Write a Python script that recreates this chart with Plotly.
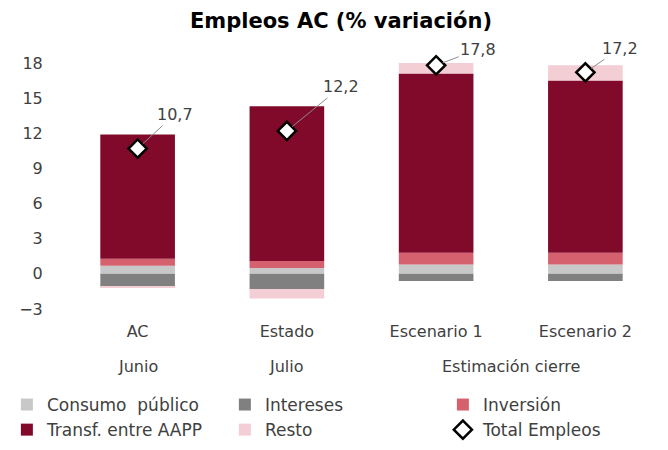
import plotly.graph_objects as go

categories = ["AC", "Estado", "Escenario 1", "Escenario 2"]
group_labels = ["Junio", "Julio", "Estimación cierre"]
group_pos = [0, 1, 2.5]

consumo = [0.7, 0.5, 0.8, 0.8]
intereses = [-1.1, -1.3, -0.6, -0.6]
inversion = [0.6, 0.6, 1.0, 1.0]
transf = [10.6, 13.2, 15.3, 14.7]
resto = [-0.1, -0.8, 1.3, 1.3]
total = [10.7, 12.2, 17.8, 17.2]

y_ticks = [-3, 0, 3, 6, 9, 12, 15, 18]

# label offsets (px) for total labels
label_ax = [37, 54, 42, 35]
label_ay = [-34, -44, -16, -24]

FONT = "DejaVu Sans"
TXT = "#404040"

fig = go.Figure()
series = [
    ("Consumo\u00a0 público", consumo, "#c8c8c8"),
    ("Intereses", intereses, "#808080"),
    ("Inversión", inversion, "#d5616f"),
    ("Transf. entre AAPP", transf, "#810a2b"),
    ("Resto", resto, "#f4ced5"),
]
for name, vals, col in series:
    fig.add_trace(go.Bar(x=categories, y=vals, name=name, width=0.5,
                         marker=dict(color=col, line=dict(width=0))))

fig.add_trace(go.Scatter(x=categories, y=total, name="Total Empleos", mode="markers",
                         marker=dict(symbol="diamond", size=14, color="white",
                                     line=dict(color="black", width=2.5)),
                         cliponaxis=False))

annotations = []
for i, (c, v) in enumerate(zip(categories, total)):
    annotations.append(dict(x=c, y=v, xref="x", yref="y",
                            text=f"{v:.1f}".replace(".", ","),
                            showarrow=True, arrowhead=0, arrowwidth=1, arrowcolor="#8c8c8c",
                            ax=label_ax[i], ay=label_ay[i], standoff=7,
                            font=dict(family=FONT, size=16, color=TXT)))
for g, p in zip(group_labels, group_pos):
    annotations.append(dict(x=p, y=-0.232, xref="x", yref="paper", text=g, showarrow=False,
                            yanchor="middle", font=dict(family=FONT, size=16, color=TXT)))

fig.update_layout(
    width=668, height=450,
    margin=dict(l=63, r=8, t=63, b=141, autoexpand=False),
    paper_bgcolor="white", plot_bgcolor="white",
    barmode="relative",
    title=dict(text="<b>Empleos AC (% variación)</b>", x=341 / 668, xref="container",
               xanchor="center", y=1 - 21 / 450, yref="container", yanchor="middle",
               font=dict(family="DejaVu Sans", size=21, color="black")),
    xaxis=dict(type="category", range=[-0.5, 3.5], showgrid=False, zeroline=False,
               showline=False, ticks="outside", ticklen=8, tickcolor="rgba(0,0,0,0)",
               tickfont=dict(family=FONT, size=16, color=TXT)),
    yaxis=dict(range=[-3, 18], tickvals=y_ticks, showgrid=False, zeroline=False,
               showline=False, ticks="outside", ticklen=16, tickcolor="rgba(0,0,0,0)",
               tickfont=dict(family=FONT, size=16, color=TXT)),
    legend=dict(orientation="h", x=-0.094, xanchor="left",
                y=-0.317, yanchor="top",
                entrywidth=173, entrywidthmode="pixels", traceorder="normal",
                font=dict(family=FONT, size=17, color=TXT)),
    annotations=annotations,
)

fig.write_html("out.html", config={"displayModeBar": False},
               post_script="document.body.style.margin='0';")
